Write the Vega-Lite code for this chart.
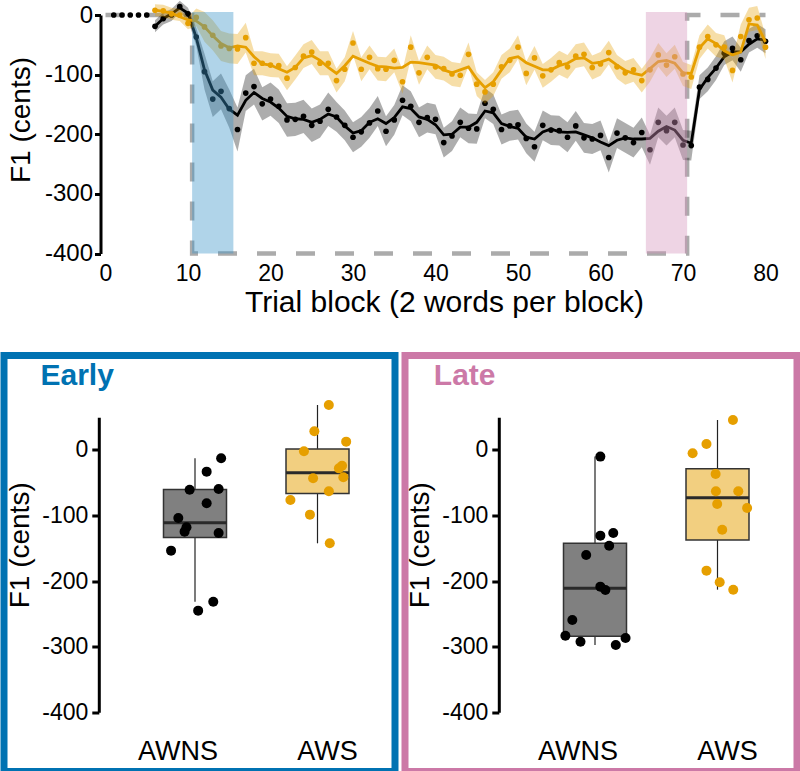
{
"$schema": "https://vega.github.io/schema/vega-lite/v6.json",
"autosize": {"type": "pad"},
"padding": {"left": 0, "top": 0, "right": 0, "bottom": 0},
"background": "white",
"config": {"view": {"stroke": null}, "font": "Liberation Sans",
  "axis": {"grid": false, "labelColor": "black", "titleColor": "black", "domainColor": "black", "tickColor": "black", "labelFont": "Liberation Sans", "titleFont": "Liberation Sans", "titleFontWeight": "normal"}},
"datasets": {
"profile": [{"i":1,"b":0,"f":0},{"i":2,"b":10.5,"f":0},{"i":3,"b":10.5,"f":-400},{"i":4,"b":70.5,"f":-400},{"i":5,"b":70.5,"f":0},{"i":6,"b":80,"f":0}],
"windows": [{"ph":"Early","st":10.5,"en":15.5,"top":5,"bot":-400},{"ph":"Late","st":65.5,"en":70.5,"top":5,"bot":-400}],
"awns": [
{"b":1,"m":0},{"b":2,"m":0},{"b":3,"m":0},{"b":4,"m":0},{"b":5,"m":0},
{"b":6,"m":-19,"lo":-29,"hi":-9,"s":-19},{"b":7,"m":-6,"lo":-16,"hi":4,"s":-6},{"b":8,"m":0,"lo":-10,"hi":10,"s":2},{"b":9,"m":14,"lo":4,"hi":24,"s":12},{"b":10,"m":2,"lo":-8,"hi":12,"s":3},
{"b":11,"m":-37,"lo":-52,"hi":-22,"s":-38},{"b":12,"m":-95,"lo":-125,"hi":-65,"s":-92},{"b":13,"m":-141,"lo":-171,"hi":-111,"s":-126},{"b":14,"m":-128,"lo":-158,"hi":-98,"s":-138},{"b":15,"m":-157,"lo":-189,"hi":-125,"s":-158},
{"b":16,"m":-192,"lo":-229,"hi":-155,"s":-168},{"b":17,"m":-131,"lo":-161,"hi":-101,"s":-143},{"b":18,"m":-120,"lo":-150,"hi":-90,"s":-130},{"b":19,"m":-149,"lo":-177,"hi":-121,"s":-140},{"b":20,"m":-141,"lo":-169,"hi":-113,"s":-146},
{"b":21,"m":-153,"lo":-181,"hi":-125,"s":-156},{"b":22,"m":-176,"lo":-204,"hi":-148,"s":-170},{"b":23,"m":-175,"lo":-203,"hi":-147,"s":-174},{"b":24,"m":-170,"lo":-198,"hi":-142,"s":-175},{"b":25,"m":-185,"lo":-213,"hi":-157,"s":-180},
{"b":26,"m":-178,"lo":-206,"hi":-150,"s":-175},{"b":27,"m":-158,"lo":-186,"hi":-130,"s":-166},{"b":28,"m":-171,"lo":-196,"hi":-146,"s":-171},{"b":29,"m":-185,"lo":-210,"hi":-160,"s":-186},{"b":30,"m":-205,"lo":-230,"hi":-180,"s":-198},
{"b":31,"m":-196,"lo":-221,"hi":-171,"s":-194},{"b":32,"m":-181,"lo":-206,"hi":-156,"s":-180},{"b":33,"m":-161,"lo":-186,"hi":-136,"s":-174},{"b":34,"m":-195,"lo":-220,"hi":-170,"s":-182},{"b":35,"m":-176,"lo":-201,"hi":-151,"s":-172},
{"b":36,"m":-143,"lo":-168,"hi":-118,"s":-154},{"b":37,"m":-153,"lo":-178,"hi":-128,"s":-157},{"b":38,"m":-180,"lo":-205,"hi":-155,"s":-171},{"b":39,"m":-172,"lo":-197,"hi":-147,"s":-175},{"b":40,"m":-175,"lo":-200,"hi":-150,"s":-184},
{"b":41,"m":-214,"lo":-239,"hi":-189,"s":-201},{"b":42,"m":-203,"lo":-228,"hi":-178,"s":-200},{"b":43,"m":-180,"lo":-205,"hi":-155,"s":-188},{"b":44,"m":-190,"lo":-215,"hi":-165,"s":-188},{"b":45,"m":-191,"lo":-216,"hi":-166,"s":-180},
{"b":46,"m":-148,"lo":-173,"hi":-123,"s":-161},{"b":47,"m":-158,"lo":-183,"hi":-133,"s":-164},{"b":48,"m":-192,"lo":-217,"hi":-167,"s":-182},{"b":49,"m":-186,"lo":-211,"hi":-161,"s":-187},{"b":50,"m":-184,"lo":-209,"hi":-159,"s":-190},
{"b":51,"m":-207,"lo":-232,"hi":-182,"s":-205},{"b":52,"m":-221,"lo":-246,"hi":-196,"s":-208},{"b":53,"m":-185,"lo":-210,"hi":-160,"s":-196},{"b":54,"m":-193,"lo":-218,"hi":-168,"s":-191},{"b":55,"m":-194,"lo":-219,"hi":-169,"s":-196},
{"b":56,"m":-205,"lo":-230,"hi":-180,"s":-197},{"b":57,"m":-186,"lo":-211,"hi":-161,"s":-196},{"b":58,"m":-206,"lo":-231,"hi":-181,"s":-201},{"b":59,"m":-208,"lo":-233,"hi":-183,"s":-206},{"b":60,"m":-202,"lo":-227,"hi":-177,"s":-213},
{"b":61,"m":-239,"lo":-264,"hi":-214,"s":-219},{"b":62,"m":-198,"lo":-223,"hi":-173,"s":-210},{"b":63,"m":-206,"lo":-231,"hi":-181,"s":-206},{"b":64,"m":-214,"lo":-239,"hi":-189,"s":-208},{"b":65,"m":-197,"lo":-222,"hi":-172,"s":-208},
{"b":66,"m":-226,"lo":-251,"hi":-201,"s":-207},{"b":67,"m":-180,"lo":-205,"hi":-155,"s":-195},{"b":68,"m":-194,"lo":-219,"hi":-169,"s":-187},{"b":69,"m":-180,"lo":-205,"hi":-155,"s":-193},{"b":70,"m":-218,"lo":-243,"hi":-193,"s":-210},
{"b":71,"m":-219,"lo":-244,"hi":-194,"s":-215},{"b":72,"m":-121,"lo":-141,"hi":-101,"s":-125},{"b":73,"m":-108,"lo":-128,"hi":-88,"s":-105},{"b":74,"m":-89,"lo":-109,"hi":-69,"s":-89},{"b":75,"m":-64,"lo":-84,"hi":-44,"s":-70},
{"b":76,"m":-56,"lo":-76,"hi":-36,"s":-62},{"b":77,"m":-75,"lo":-95,"hi":-55,"s":-62},{"b":78,"m":-43,"lo":-63,"hi":-23,"s":-49},{"b":79,"m":-35,"lo":-55,"hi":-15,"s":-40},{"b":80,"m":-44,"lo":-64,"hi":-24,"s":-42}
],
"aws": [
{"b":6,"m":8,"lo":-2,"hi":18,"s":8},{"b":7,"m":7,"lo":-3,"hi":17,"s":6},{"b":8,"m":2,"lo":-8,"hi":12,"s":3},{"b":9,"m":0,"lo":-10,"hi":10,"s":-3},{"b":10,"m":-14,"lo":-24,"hi":-4,"s":-8},
{"b":11,"m":-4,"lo":-19,"hi":11,"s":-10},{"b":12,"m":-20,"lo":-45,"hi":5,"s":-20},{"b":13,"m":-34,"lo":-59,"hi":-9,"s":-35},{"b":14,"m":-52,"lo":-77,"hi":-27,"s":-48},{"b":15,"m":-56,"lo":-81,"hi":-31,"s":-55},
{"b":16,"m":-57,"lo":-82,"hi":-32,"s":-52},{"b":17,"m":-38,"lo":-63,"hi":-13,"s":-54},{"b":18,"m":-81,"lo":-101,"hi":-61,"s":-70},{"b":19,"m":-81,"lo":-101,"hi":-61,"s":-82},{"b":20,"m":-84,"lo":-104,"hi":-64,"s":-84},
{"b":21,"m":-85,"lo":-105,"hi":-65,"s":-90},{"b":22,"m":-106,"lo":-126,"hi":-86,"s":-96},{"b":23,"m":-88,"lo":-108,"hi":-68,"s":-88},{"b":24,"m":-69,"lo":-89,"hi":-49,"s":-72},{"b":25,"m":-62,"lo":-82,"hi":-42,"s":-68},
{"b":26,"m":-81,"lo":-101,"hi":-61,"s":-76},{"b":27,"m":-81,"lo":-101,"hi":-61,"s":-88},{"b":28,"m":-110,"lo":-130,"hi":-90,"s":-98},{"b":29,"m":-91,"lo":-111,"hi":-71,"s":-85},{"b":30,"m":-47,"lo":-67,"hi":-27,"s":-69},
{"b":31,"m":-91,"lo":-111,"hi":-71,"s":-75},{"b":32,"m":-71,"lo":-91,"hi":-51,"s":-81},{"b":33,"m":-90,"lo":-110,"hi":-70,"s":-86},{"b":34,"m":-91,"lo":-111,"hi":-71,"s":-87},{"b":35,"m":-76,"lo":-96,"hi":-56,"s":-89},
{"b":36,"m":-112,"lo":-132,"hi":-92,"s":-88},{"b":37,"m":-54,"lo":-74,"hi":-34,"s":-79},{"b":38,"m":-97,"lo":-117,"hi":-77,"s":-80},{"b":39,"m":-71,"lo":-91,"hi":-51,"s":-82},{"b":40,"m":-87,"lo":-107,"hi":-67,"s":-84},
{"b":41,"m":-90,"lo":-110,"hi":-70,"s":-92},{"b":42,"m":-99,"lo":-119,"hi":-79,"s":-97},{"b":43,"m":-101,"lo":-121,"hi":-81,"s":-92},{"b":44,"m":-66,"lo":-86,"hi":-46,"s":-87},{"b":45,"m":-116,"lo":-136,"hi":-96,"s":-107},
{"b":46,"m":-129,"lo":-149,"hi":-109,"s":-122},{"b":47,"m":-116,"lo":-136,"hi":-96,"s":-112},{"b":48,"m":-87,"lo":-107,"hi":-67,"s":-92},{"b":49,"m":-76,"lo":-96,"hi":-56,"s":-73},{"b":50,"m":-54,"lo":-74,"hi":-34,"s":-70},
{"b":51,"m":-98,"lo":-118,"hi":-78,"s":-80},{"b":52,"m":-72,"lo":-92,"hi":-52,"s":-86},{"b":53,"m":-102,"lo":-122,"hi":-82,"s":-92},{"b":54,"m":-92,"lo":-112,"hi":-72,"s":-92},{"b":55,"m":-80,"lo":-100,"hi":-60,"s":-85},
{"b":56,"m":-87,"lo":-107,"hi":-67,"s":-81},{"b":57,"m":-69,"lo":-89,"hi":-49,"s":-73},{"b":58,"m":-66,"lo":-86,"hi":-46,"s":-72},{"b":59,"m":-88,"lo":-108,"hi":-68,"s":-81},{"b":60,"m":-82,"lo":-102,"hi":-62,"s":-79},
{"b":61,"m":-63,"lo":-83,"hi":-43,"s":-74},{"b":62,"m":-87,"lo":-107,"hi":-67,"s":-84},{"b":63,"m":-97,"lo":-117,"hi":-77,"s":-93},{"b":64,"m":-92,"lo":-112,"hi":-72,"s":-98},{"b":65,"m":-110,"lo":-130,"hi":-90,"s":-101},
{"b":66,"m":-92,"lo":-112,"hi":-72,"s":-90},{"b":67,"m":-67,"lo":-87,"hi":-47,"s":-78},{"b":68,"m":-84,"lo":-104,"hi":-64,"s":-76},{"b":69,"m":-70,"lo":-90,"hi":-50,"s":-81},{"b":70,"m":-99,"lo":-119,"hi":-79,"s":-97},
{"b":71,"m":-104,"lo":-124,"hi":-84,"s":-98},{"b":72,"m":-54,"lo":-74,"hi":-34,"s":-55},{"b":73,"m":-36,"lo":-56,"hi":-16,"s":-40},{"b":74,"m":-50,"lo":-70,"hi":-30,"s":-48},{"b":75,"m":-54,"lo":-74,"hi":-34,"s":-60},
{"b":76,"m":-93,"lo":-113,"hi":-73,"s":-67},{"b":77,"m":-36,"lo":-56,"hi":-16,"s":-62},{"b":78,"m":-8,"lo":-28,"hi":12,"s":-15},{"b":79,"m":-5,"lo":-25,"hi":15,"s":-17},{"b":80,"m":-54,"lo":-74,"hi":-34,"s":-45}
],
"early": [
{"g":"AWNS","v":-12.7,"j":0.83},{"g":"AWNS","v":-33,"j":0.37},{"g":"AWNS","v":-60.5,"j":-0.17},{"g":"AWNS","v":-59.5,"j":0.75},{"g":"AWNS","v":-81.3,"j":0.37},{"g":"AWNS","v":-103.7,"j":-0.53},
{"g":"AWNS","v":-117.9,"j":-0.27},{"g":"AWNS","v":-124.5,"j":-0.33},{"g":"AWNS","v":-126.6,"j":0.75},{"g":"AWNS","v":-153.5,"j":-0.76},{"g":"AWNS","v":-231.3,"j":0.58},{"g":"AWNS","v":-245,"j":0.1},
{"g":"AWS","v":68.6,"j":0.36},{"g":"AWS","v":28.5,"j":-0.1},{"g":"AWS","v":12.7,"j":0.91},{"g":"AWS","v":-2,"j":-0.43},{"g":"AWS","v":-23.9,"j":0.78},{"g":"AWS","v":-28,"j":0.68},
{"g":"AWS","v":-43.2,"j":-0.14},{"g":"AWS","v":-41.7,"j":0.82},{"g":"AWS","v":-63,"j":0.36},{"g":"AWS","v":-76.2,"j":-0.86},{"g":"AWS","v":-98.6,"j":-0.24},{"g":"AWS","v":-142.3,"j":0.39}
],
"late": [
{"g":"AWNS","v":-10.1,"j":0.17},{"g":"AWNS","v":-130.6,"j":0.17},{"g":"AWNS","v":-126.6,"j":0.58},{"g":"AWNS","v":-145.9,"j":0.45},{"g":"AWNS","v":-160.1,"j":-0.28},{"g":"AWNS","v":-208.4,"j":0.17},
{"g":"AWNS","v":-213.5,"j":0.33},{"g":"AWNS","v":-259.2,"j":-0.72},{"g":"AWNS","v":-283.2,"j":-0.94},{"g":"AWNS","v":-286.7,"j":0.97},{"g":"AWNS","v":-292.3,"j":-0.46},{"g":"AWNS","v":-297.3,"j":0.66},
{"g":"AWS","v":45.7,"j":0.49},{"g":"AWS","v":9.1,"j":-0.35},{"g":"AWS","v":-5.1,"j":-0.79},{"g":"AWS","v":-36.6,"j":-0.06},{"g":"AWS","v":-63,"j":-0.05},{"g":"AWS","v":-63,"j":0.66},
{"g":"AWS","v":-82.3,"j":-0.01},{"g":"AWS","v":-88.4,"j":0.94},{"g":"AWS","v":-121.5,"j":0.15},{"g":"AWS","v":-184,"j":-0.35},{"g":"AWS","v":-201.8,"j":0.07},{"g":"AWS","v":-213,"j":0.5}
]
},
"bounds": "flush",
"spacing": 101.5,
"resolve": {"scale": {"fill": "independent", "color": "independent"}},
"vconcat": [
{
 "width": 770, "height": 238.5,
 "layer": [
  {"data": {"name": "profile"},
   "mark": {"type": "line", "strokeDash": [19, 20], "strokeWidth": 4.5, "color": "#ababab"},
   "encoding": {
     "x": {"field": "b", "type": "quantitative", "scale": {"domain": [0, 80], "range": [101.5, 761.5], "nice": false, "zero": false},
       "axis": {"title": "Trial block (2 words per block)", "values": [0,10,20,30,40,50,60,70,80], "domain": false, "ticks": false, "tickSize": 0, "labelFontSize": 23, "labelPadding": 27, "labelBaseline": "alphabetic", "labelFlush": false, "labelOverlap": false, "titleFontSize": 30, "titleX": 440, "titleY": 58, "titleBaseline": "alphabetic", "titleAlign": "center"}},
     "y": {"field": "f", "type": "quantitative", "scale": {"domain": [-400, 0], "nice": false, "zero": false},
       "axis": {"title": "F1 (cents)", "values": [0,-100,-200,-300,-400], "labelExpr": "'' + datum.value", "offset": -96.5, "domainWidth": 3, "tickWidth": 3, "tickSize": 6, "labelFontSize": 24, "labelPadding": 2, "titleFontSize": 28, "titleX": -71.5, "titleY": 104.5, "titleBaseline": "alphabetic", "titleAngle": -90, "titleAlign": "center"}},
     "order": {"field": "i", "type": "quantitative"}
   }},
  {"data": {"name": "awns"}, "mark": {"type": "area", "color": "black", "opacity": 0.32},
   "encoding": {"x": {"field": "b", "type": "quantitative"}, "y": {"field": "lo", "type": "quantitative"}, "y2": {"field": "hi"}}},
  {"data": {"name": "awns"}, "mark": {"type": "line", "color": "black", "strokeWidth": 2.8},
   "encoding": {"x": {"field": "b", "type": "quantitative"}, "y": {"field": "s", "type": "quantitative"}}},
  {"data": {"name": "awns"}, "mark": {"type": "circle", "color": "black", "size": 32, "opacity": 1},
   "encoding": {"x": {"field": "b", "type": "quantitative"}, "y": {"field": "m", "type": "quantitative"}}},
  {"data": {"name": "aws"}, "mark": {"type": "area", "color": "#E69F00", "opacity": 0.34},
   "encoding": {"x": {"field": "b", "type": "quantitative"}, "y": {"field": "lo", "type": "quantitative"}, "y2": {"field": "hi"}}},
  {"data": {"name": "aws"}, "mark": {"type": "line", "color": "#E69F00", "strokeWidth": 2.8},
   "encoding": {"x": {"field": "b", "type": "quantitative"}, "y": {"field": "s", "type": "quantitative"}}},
  {"data": {"name": "aws"}, "mark": {"type": "circle", "color": "#E69F00", "size": 32, "opacity": 1},
   "encoding": {"x": {"field": "b", "type": "quantitative"}, "y": {"field": "m", "type": "quantitative"}}},
  {"data": {"name": "windows"}, "mark": {"type": "rect", "fillOpacity": 0.4},
   "encoding": {"x": {"field": "st", "type": "quantitative"}, "x2": {"field": "en"}, "y": {"field": "top", "type": "quantitative"}, "y2": {"field": "bot"},
     "fill": {"field": "ph", "type": "nominal", "scale": {"domain": ["Early", "Late"], "range": ["#3A94C8", "#D493BB"]}, "legend": null}}}
 ]
},
{
 "bounds": "flush",
 "spacing": 10,
 "resolve": {"scale": {"fill": "independent", "color": "independent"}},
 "hconcat": [
  {
   "width": 391, "height": 416,
   "view": {"stroke": "#0072B2", "strokeWidth": 7},
   "title": {"text": "Early", "anchor": "start", "frame": "group", "offset": -31.8, "dx": 36.5, "dy": 28, "baseline": "alphabetic", "fontSize": 30, "fontWeight": "bold", "color": "#0072B2", "font": "Liberation Sans"},
   "data": {"name": "early"},
   "layer": [
    {"mark": {"type": "boxplot", "extent": 1.5, "size": 63, "outliers": false, "ticks": false, "median": false, "box": {"stroke": "#333333", "strokeWidth": 1.5}, "rule": {"color": "#222222", "strokeWidth": 1.2}},
     "encoding": {
       "x": {"field": "g", "type": "nominal", "sort": ["AWNS", "AWS"], "scale": {"domain": ["AWNS", "AWS"], "range": [129.75, 374.75], "paddingInner": 0, "paddingOuter": 0},
         "axis": {"title": null, "domain": false, "ticks": false, "tickSize": 0, "labelFontSize": 27, "labelPadding": 0, "labelBaseline": "alphabetic", "offset": -12.5, "labelAngle": 0, "labelOffset": {"condition": {"test": "datum.value === 'AWNS'", "value": -17}, "value": 10}}},
       "y": {"field": "v", "type": "quantitative", "title": "F1 (cents)", "scale": {"domain": [-400, 50], "range": [356.8, 61.7], "nice": false, "zero": false},
         "axis": {"title": "F1 (cents)", "values": [0,-100,-200,-300,-400], "labelExpr": "'' + datum.value", "offset": -94.8, "domainWidth": 3, "tickWidth": 3, "tickSize": 7, "labelFontSize": 23, "labelPadding": 4, "titleFontSize": 28, "titleX": -70.3, "titleY": 189.3, "titleBaseline": "alphabetic", "titleAngle": -90, "titleAlign": "center"}},
       "fill": {"field": "g", "type": "nominal", "scale": {"domain": ["AWNS", "AWS"], "range": ["#808080", "#F2CF80"]}, "legend": null}
     }},
    {"mark": {"type": "boxplot", "extent": 1.5, "size": 63, "outliers": false, "ticks": false, "box": false, "rule": false, "median": {"color": "#2a2a2a", "thickness": 3, "opacity": 1}},
     "encoding": {"x": {"field": "g", "type": "nominal", "sort": ["AWNS", "AWS"]}, "y": {"field": "v", "type": "quantitative", "title": "F1 (cents)"}}},
    {"mark": {"type": "circle", "size": 100, "opacity": 1},
     "encoding": {"x": {"field": "g", "type": "nominal", "sort": ["AWNS", "AWS"]},
       "xOffset": {"field": "j", "type": "quantitative", "scale": {"domain": [-1, 1], "range": [29.75, 92.75]}},
       "y": {"field": "v", "type": "quantitative", "title": "F1 (cents)"},
       "color": {"field": "g", "type": "nominal", "scale": {"domain": ["AWNS", "AWS"], "range": ["#000000", "#E69F00"]}, "legend": null}}}
   ]
  },
  {
   "width": 392, "height": 416,
   "view": {"stroke": "#CC79A7", "strokeWidth": 7},
   "title": {"text": "Late", "anchor": "start", "frame": "group", "offset": -31.8, "dx": 28.8, "dy": 28, "baseline": "alphabetic", "fontSize": 30, "fontWeight": "bold", "color": "#CC79A7", "font": "Liberation Sans"},
   "data": {"name": "late"},
   "layer": [
    {"mark": {"type": "boxplot", "extent": 1.5, "size": 63, "outliers": false, "ticks": false, "median": false, "box": {"stroke": "#333333", "strokeWidth": 1.5}, "rule": {"color": "#222222", "strokeWidth": 1.2}},
     "encoding": {
       "x": {"field": "g", "type": "nominal", "sort": ["AWNS", "AWS"], "scale": {"domain": ["AWNS", "AWS"], "range": [128.75, 373.75], "paddingInner": 0, "paddingOuter": 0},
         "axis": {"title": null, "domain": false, "ticks": false, "tickSize": 0, "labelFontSize": 27, "labelPadding": 0, "labelBaseline": "alphabetic", "offset": -12.5, "labelAngle": 0, "labelOffset": {"condition": {"test": "datum.value === 'AWNS'", "value": -17}, "value": 10}}},
       "y": {"field": "v", "type": "quantitative", "title": "F1 (cents)", "scale": {"domain": [-400, 50], "range": [356.8, 61.7], "nice": false, "zero": false},
         "axis": {"title": "F1 (cents)", "values": [0,-100,-200,-300,-400], "labelExpr": "'' + datum.value", "offset": -93.8, "domainWidth": 3, "tickWidth": 3, "tickSize": 7, "labelFontSize": 23, "labelPadding": 4, "titleFontSize": 28, "titleX": -70.3, "titleY": 189.3, "titleBaseline": "alphabetic", "titleAngle": -90, "titleAlign": "center"}},
       "fill": {"field": "g", "type": "nominal", "scale": {"domain": ["AWNS", "AWS"], "range": ["#808080", "#F2CF80"]}, "legend": null}
     }},
    {"mark": {"type": "boxplot", "extent": 1.5, "size": 63, "outliers": false, "ticks": false, "box": false, "rule": false, "median": {"color": "#2a2a2a", "thickness": 3, "opacity": 1}},
     "encoding": {"x": {"field": "g", "type": "nominal", "sort": ["AWNS", "AWS"]}, "y": {"field": "v", "type": "quantitative", "title": "F1 (cents)"}}},
    {"mark": {"type": "circle", "size": 100, "opacity": 1},
     "encoding": {"x": {"field": "g", "type": "nominal", "sort": ["AWNS", "AWS"]},
       "xOffset": {"field": "j", "type": "quantitative", "scale": {"domain": [-1, 1], "range": [29.75, 92.75]}},
       "y": {"field": "v", "type": "quantitative", "title": "F1 (cents)"},
       "color": {"field": "g", "type": "nominal", "scale": {"domain": ["AWNS", "AWS"], "range": ["#000000", "#E69F00"]}, "legend": null}}}
   ]
  }
 ]
}
]
}
